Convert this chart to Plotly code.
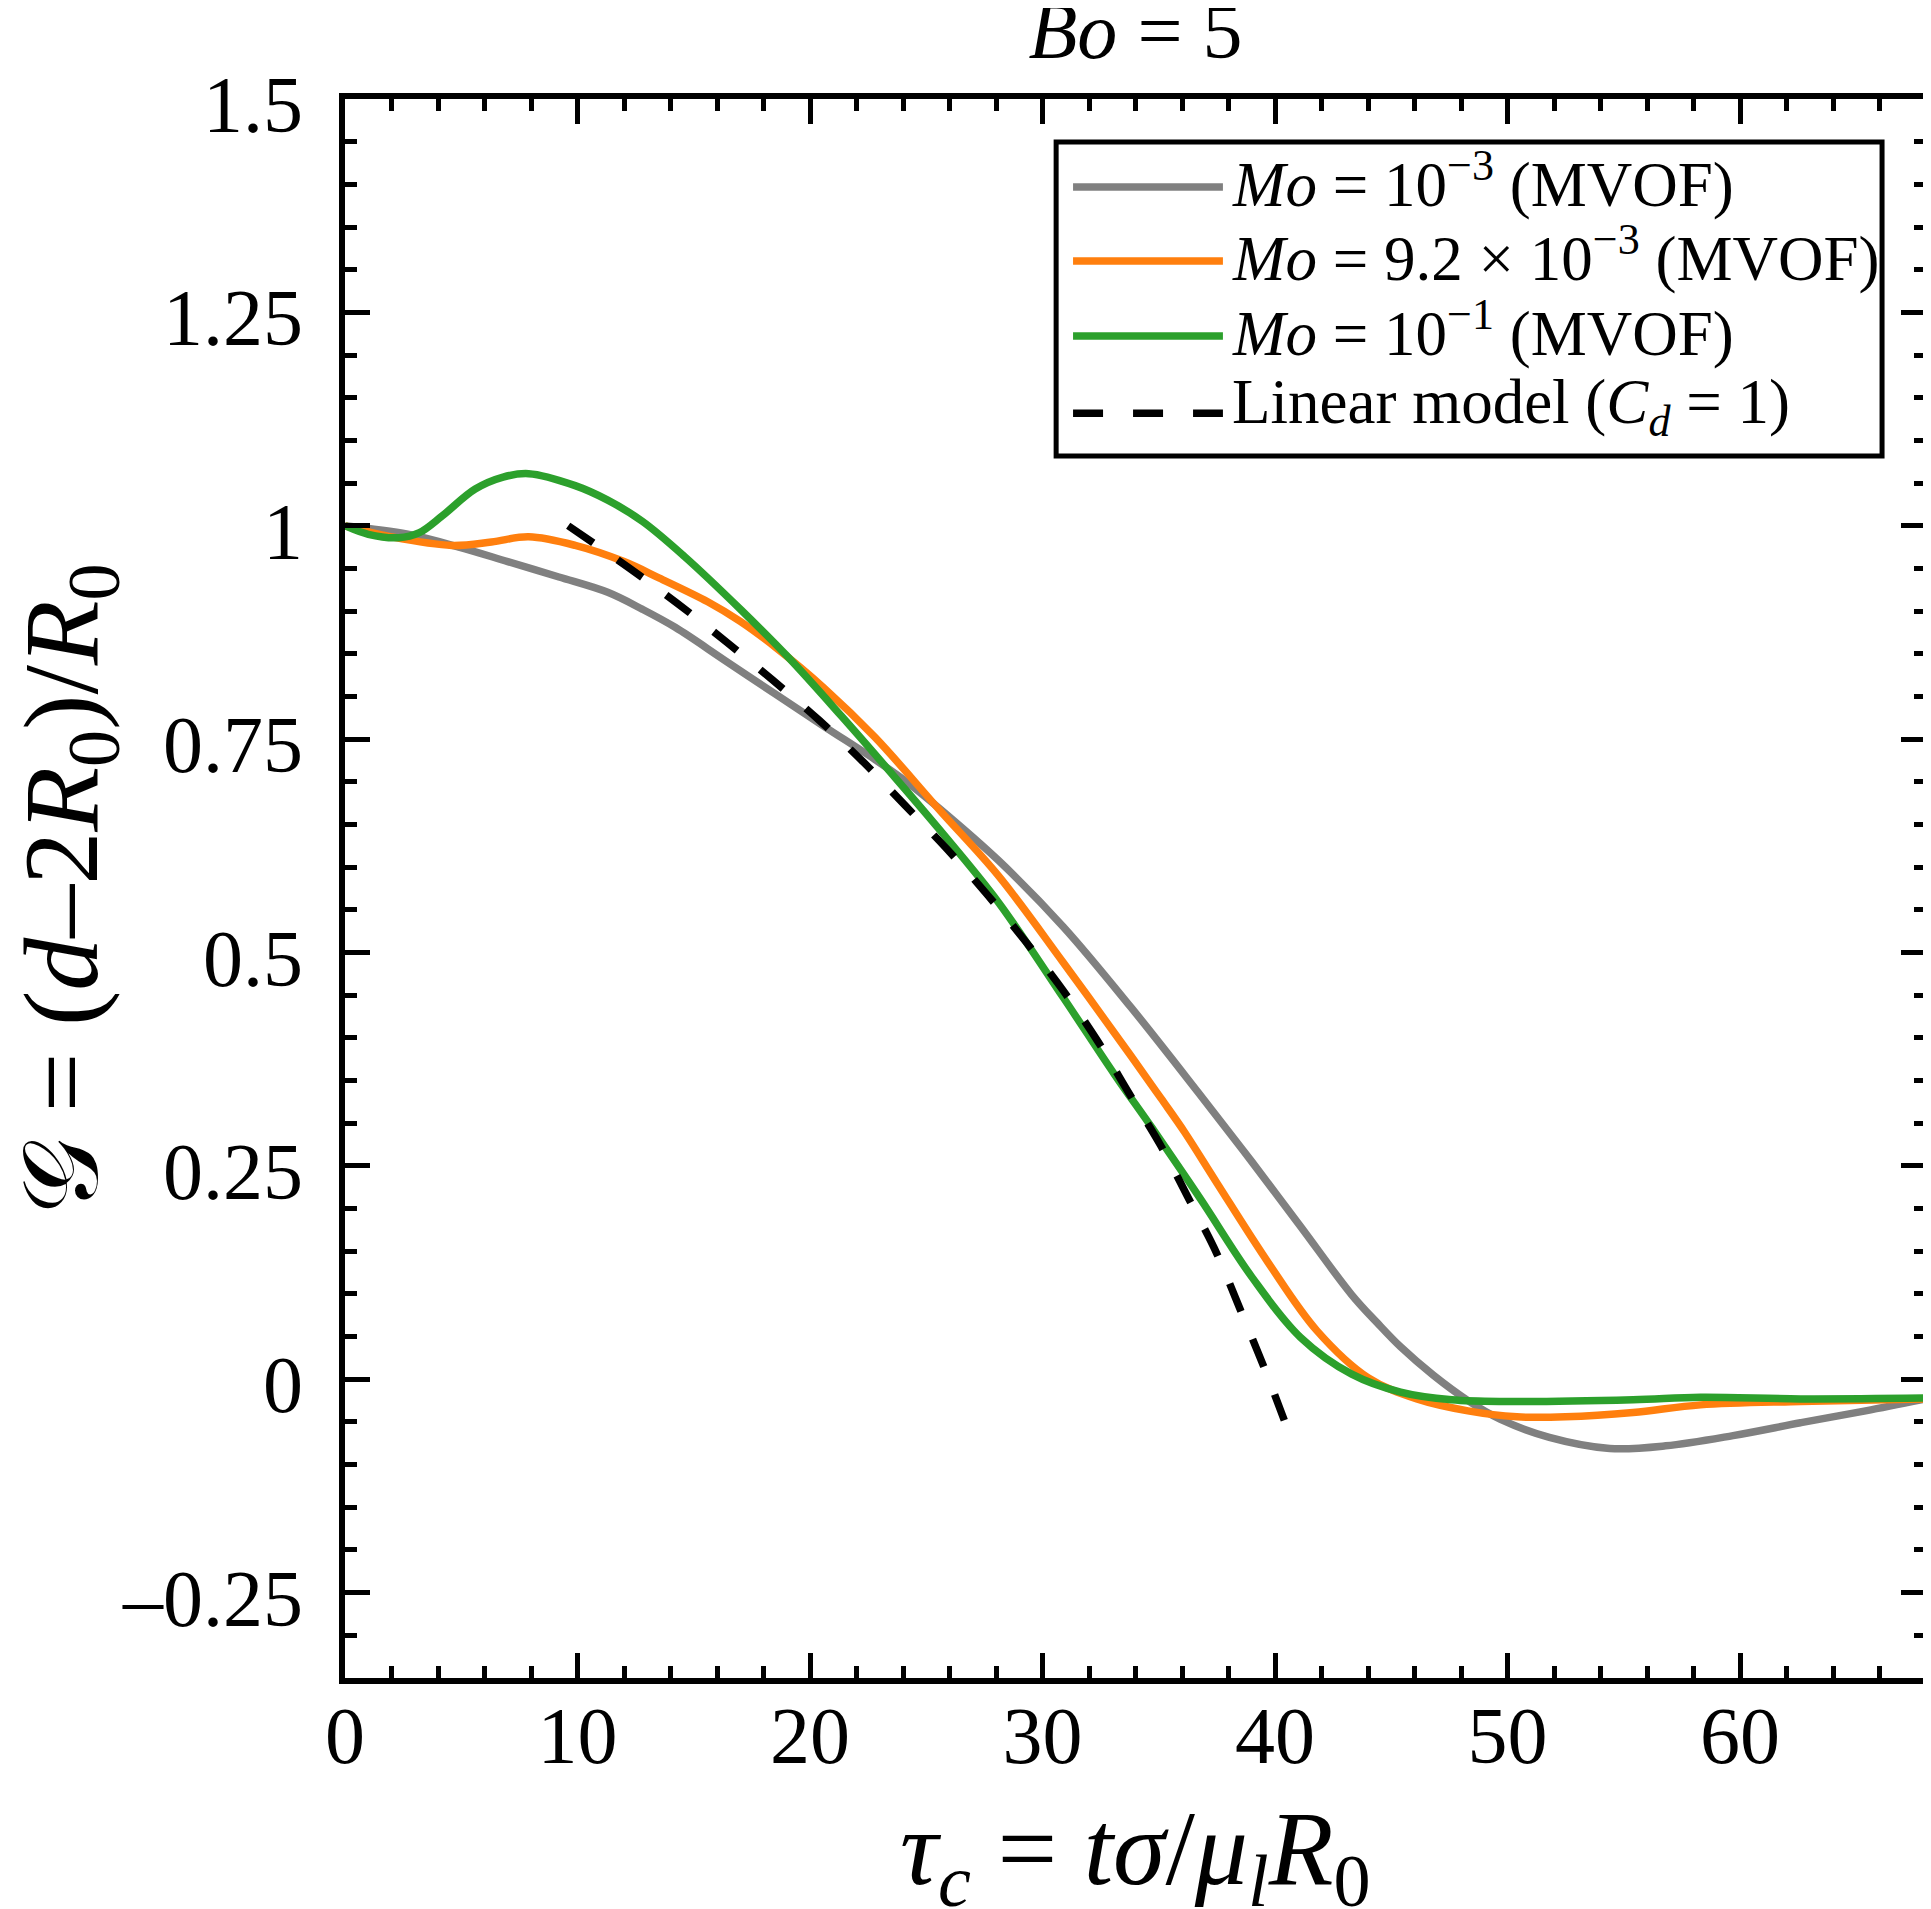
import plotly.graph_objects as go

# Mo = 1e-3 (grey)
tau_gray = [0, 2.7, 4.9, 7.0, 9.2, 11.3, 12.8, 14.2, 16.3, 18.5, 20.6, 22.8, 24.2, 25.6,
            28.1, 30.9, 33.8, 36.7, 39.0, 41.1, 43.3, 44.4, 45.4, 46.8, 48.3, 49.7, 51.8,
            54.4, 56.8, 59.7, 62.6, 65.4, 68.0]
g_gray = [1.0, 0.99, 0.975, 0.958, 0.94, 0.922, 0.902, 0.881, 0.843, 0.803, 0.765, 0.726, 0.699, 0.668,
          0.608, 0.530, 0.436, 0.336, 0.255, 0.179, 0.099, 0.066, 0.038, 0.005, -0.025, -0.047, -0.068,
          -0.081, -0.078, -0.066, -0.051, -0.037, -0.023]

# Mo = 9.2e-3 (orange)
tau_orange = [0, 2.0, 4.6, 6.3, 7.9, 9.9, 12.0, 13.5, 15.6, 17.0, 18.5, 20.6, 22.8, 25.6, 28.1,
              30.9, 33.8, 35.1, 36.1, 37.5, 39.7, 41.8, 44.0, 46.1, 48.3, 50.4, 52.5,
              55.4, 58.3, 62.6, 68.0]
g_orange = [1.0, 0.987, 0.977, 0.981, 0.987, 0.977, 0.958, 0.939, 0.911, 0.888, 0.858, 0.81, 0.752, 0.666, 0.59,
            0.488, 0.379, 0.329, 0.29, 0.23, 0.137, 0.057, 0.002, -0.023, -0.037, -0.044, -0.044,
            -0.039, -0.03, -0.026, -0.023]

# Mo = 1e-1 (green)
tau_green = [0, 1.0, 2.3, 3.2, 4.2, 5.6, 6.8, 7.9, 9.9, 11.3, 12.8, 14.6, 17.05, 19.06, 21.35,
             23.5, 25.6, 28.1, 30.9, 33.1, 34.7, 36.8, 39.0, 41.1, 43.3, 45.4, 47.6, 50.0,
             55.4, 58.3, 62.6, 68.0]
g_green = [1.0, 0.99, 0.986, 0.992, 1.012, 1.043, 1.057, 1.061, 1.047, 1.030, 1.005, 0.964, 0.901, 0.846, 0.777,
           0.710, 0.643, 0.559, 0.447, 0.357, 0.295, 0.211, 0.12, 0.049, 0.006, -0.015, -0.024, -0.026,
           -0.024, -0.021, -0.023, -0.022]

# linear model, C_d = 1 (black dashed)
tau_lin = [9.6, 12.2, 14.3, 16.4, 18.4, 20.4, 22.3, 24.1, 25.9, 27.65, 29.3, 30.9, 32.4, 33.7,
           35.1, 36.3, 37.5, 38.5, 39.5, 40.4]
g_lin = [1.0, 0.951, 0.909, 0.864, 0.819, 0.772, 0.723, 0.672, 0.621, 0.567, 0.512, 0.455, 0.395, 0.336,
         0.273, 0.211, 0.147, 0.082, 0.016, -0.048]

names = ["<i>Mo</i> = 10<sup>−3</sup> (MVOF)",
         "<i>Mo</i> = 9.2 × 10<sup>−3</sup> (MVOF)",
         "<i>Mo</i> = 10<sup>−1</sup> (MVOF)",
         "Linear model (<i>C</i><sub><i>d</i></sub> = 1)"]
colors = ["#808080", "#ff7f0e", "#2ca02c", "black"]
dashes = ["solid", "solid", "solid", "30px,30px"]

x_ticks = [0, 10, 20, 30, 40, 50, 60]
y_ticks = [-0.25, 0, 0.25, 0.5, 0.75, 1, 1.25, 1.5]
y_ticklabels = ["–0.25", "0", "0.25", "0.5", "0.75", "1", "1.25", "1.5"]

x_title = "<i>τ</i><sub><i>c</i></sub> = <i>tσ</i>/<i>μ</i><sub><i>l</i></sub><i>R</i><sub>0</sub>"
y_title = "𝒢 = (<i>d</i>–2<i>R</i><sub>0</sub>)/<i>R</i><sub>0</sub>"

FONT = "Liberation Serif"

fig = go.Figure()
series = [(tau_gray, g_gray), (tau_orange, g_orange), (tau_green, g_green), (tau_lin, g_lin)]
for (xs, ys), name, c, d in zip(series, names, colors, dashes):
    fig.add_trace(go.Scatter(x=xs, y=ys, mode='lines', name=name,
                             line=dict(color=c, width=7.5, dash=d, shape='spline', smoothing=1.0),
                             showlegend=False))

# hand-made legend so the line samples are as long as in the original
leg_x0, leg_x1 = 0.4498, 0.9722
leg_y0, leg_y1 = 0.7739, 0.9727
row_y = [0.9442, 0.8974, 0.8499, 0.8010]
shapes = [dict(type='rect', xref='paper', yref='paper', x0=leg_x0, x1=leg_x1, y0=leg_y0, y1=leg_y1,
               line=dict(color='black', width=5), fillcolor='white', layer='above')]
annotations = []
for ry, name, c, d in zip(row_y, names, colors, dashes):
    shapes.append(dict(type='line', xref='paper', yref='paper', x0=0.4605, x1=0.5553, y0=ry, y1=ry,
                       line=dict(color=c, width=7.5, dash=d), layer='above'))
    annotations.append(dict(text=name, xref='paper', yref='paper', x=0.5600, y=ry + 0.004,
                            xanchor='left', yanchor='middle', showarrow=False,
                            font=dict(family=FONT, size=63, color='black')))

# axis titles placed as annotations so they sit exactly where the original has them
annotations.append(dict(text=x_title, xref='paper', yref='paper', x=0.5, y=-0.113,
                        xanchor='center', yanchor='middle', showarrow=False,
                        font=dict(family=FONT, size=106, color='black')))
annotations.append(dict(text=y_title, xref='paper', yref='paper', x=-0.175, y=0.5, textangle=-90,
                        xanchor='center', yanchor='middle', showarrow=False,
                        font=dict(family=FONT, size=106, color='black')))

# the html body adds an 8px margin, so everything is pulled up/left by 8px
fig.update_layout(
    width=1931, height=1909,
    margin=dict(l=337, r=13, t=91, b=239, autoexpand=False),
    paper_bgcolor='white', plot_bgcolor='white',
    font=dict(family=FONT, size=80, color='black'),
    title=dict(text="<i>Bo</i> = 5", x=0.5, xref='paper', xanchor='center',
               y=1 - 22 / 1909, yref='container', yanchor='middle', automargin=False,
               font=dict(family=FONT, size=80)),
    shapes=shapes,
    annotations=annotations,
)

axis_common = dict(showgrid=False, zeroline=False, showline=True, linecolor='black', linewidth=6,
                   mirror='allticks', ticks='inside', ticklen=25, tickwidth=5, tickcolor='black',
                   automargin=False, tickfont=dict(family=FONT, size=80, color='black'))

fig.update_xaxes(range=[0, 68], tickmode='array', tickvals=x_ticks, ticklabelstandoff=-17,
                 minor=dict(dtick=2, tick0=0, ticks='inside', ticklen=12, tickwidth=5, tickcolor='black'),
                 **axis_common)
fig.update_yaxes(range=[-0.35, 1.5], tickmode='array', tickvals=y_ticks, ticktext=y_ticklabels,
                 ticklabelstandoff=20, ticklabelshift=5,
                 minor=dict(dtick=0.05, tick0=0, ticks='inside', ticklen=12, tickwidth=5, tickcolor='black'),
                 **axis_common)

fig.write_html("out.html")
